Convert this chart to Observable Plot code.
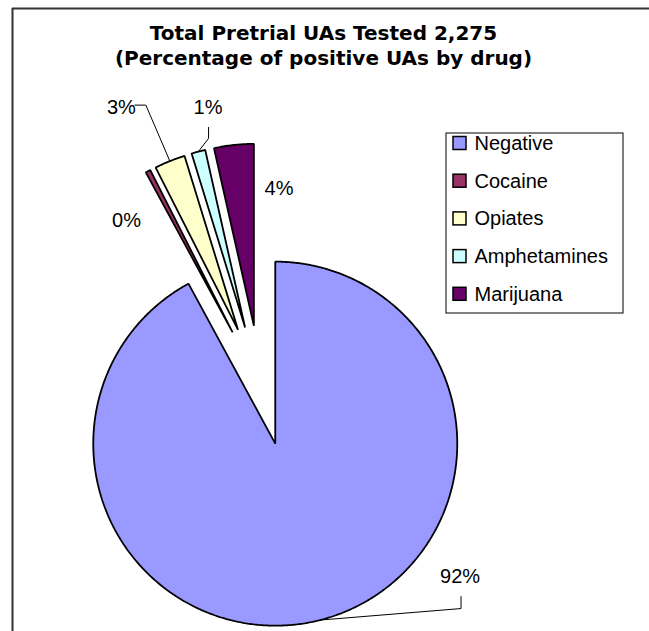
<!DOCTYPE html>
<html><head><meta charset="utf-8">
<script src="https://cdn.jsdelivr.net/npm/d3@7"></script>
<script src="https://cdn.jsdelivr.net/npm/@observablehq/plot@0.6"></script>
<style>html,body{margin:0;padding:0;overflow:hidden;background:#fff}</style>
</head><body><div id="chart"></div>
<script>
// ---- data ----
const categories = ["Negative", "Cocaine", "Opiates", "Amphetamines", "Marijuana"];
const counts = [2095, 10, 62, 28, 80];
const percentLabels = ["92%", "0%", "3%", "1%", "4%"];
const colors = ["#9999FF", "#993366", "#FFFFCC", "#CCFFFF", "#660066"];
const titleLines = ["Total Pretrial UAs Tested 2,275", "(Percentage of positive UAs by drug)"];

// ---- layout ----
const W = 649, H = 631;
const cx = 260, cy = 385, R = 182, explode = 60;
// label offsets (px) from each slice's outer-arc midpoint; baseline position
const labelOffsets = [[140, -37.5], [-21.5, 56], [-48.5, -47], [9.7, -38], [45.2, 50.5]];
// leader line offsets (px) from outer-arc midpoint (null = no leader)
const leaderOffsets = [
  [[0, 0], [141, -11.5], [141, -23.5]],
  null,
  [[0, 0], [-24, -56], [-35, -56]],
  [[0, 0], [10.2, -13.2], [10.2, -24.2]],
  null
];
const legend = {x1: 446, x2: 623, y1: 133, y2: 313, first: 143, step: 37.7, sx: 453, sw: 13, tx: 474};

const rows = categories.map((name, i) => ({name, count: counts[i], label: percentLabels[i]}));
const arcs = d3.pie().sort(null).startAngle(0).endAngle(2 * Math.PI).value(d => d.count)(rows);
const dir = a => [Math.sin(a), -Math.cos(a)];

const slicePts = [], labels = [], leaders = [];
arcs.forEach((a, i) => {
  const name = a.data.name;
  const mid = (a.startAngle + a.endAngle) / 2;
  const [ux, uy] = dir(mid);
  const ax = cx + explode * ux, ay = cy + explode * uy;
  slicePts.push({name, x: ax, y: ay});
  const n = Math.max(2, Math.ceil((a.endAngle - a.startAngle) / (Math.PI / 360)));
  for (let k = 0; k <= n; k++) {
    const t = a.startAngle + (a.endAngle - a.startAngle) * k / n;
    const [px, py] = dir(t);
    slicePts.push({name, x: ax + R * px, y: ay + R * py});
  }
  const mx = ax + R * ux, my = ay + R * uy;
  labels.push({name, label: a.data.label, x: mx + labelOffsets[i][0], y: my + labelOffsets[i][1]});
  if (leaderOffsets[i]) leaderOffsets[i].forEach(([dx, dy]) => leaders.push({name, x: mx + dx, y: my + dy}));
});

const legendRows = categories.map((name, i) => {
  const yc = legend.first + i * legend.step;
  return {name, yc, x1: legend.sx, x2: legend.sx + legend.sw, y1: yc - legend.sw / 2, y2: yc + legend.sw / 2, tx: legend.tx};
});

const font = "Liberation Sans, Arial, sans-serif";
const chart = Plot.plot({
  width: W, height: H, margin: 0,
  x: {type: "linear", domain: [0, W], range: [0, W], axis: null},
  y: {type: "linear", domain: [0, H], range: [0, H], axis: null},
  color: {domain: categories, range: colors},
  marks: [
    Plot.ruleX([{x: 12, y1: 8, y2: H}], {x: "x", y1: "y1", y2: "y2", stroke: "#333", strokeWidth: 2}),
    Plot.ruleY([{y: 8, x1: 12, x2: W}], {y: "y", x1: "x1", x2: "x2", stroke: "#333", strokeWidth: 2}),
    Plot.line(slicePts, {x: "x", y: "y", z: "name", fill: "name", stroke: "#000", strokeWidth: 1.8, curve: "linear-closed", strokeLinejoin: "miter"}),
    Plot.line(leaders, {x: "x", y: "y", z: "name", stroke: "#000", strokeWidth: 1}),
    Plot.text(labels, {x: "x", y: "y", text: "label", fontSize: 20, fontFamily: font, lineAnchor: "bottom", textAnchor: "middle", fill: "#000"}),
    Plot.text(titleLines, {x: () => 323, y: (d, i) => 39 + i * 25, text: d => d, fontSize: 20, fontWeight: "bold", fontFamily: "DejaVu Sans, sans-serif", lineAnchor: "bottom", textAnchor: "middle", fill: "#000"}),
    Plot.rect([legend], {x1: "x1", x2: "x2", y1: "y1", y2: "y2", fill: "#fff", stroke: "#000", strokeWidth: 1}),
    Plot.rect(legendRows, {x1: "x1", x2: "x2", y1: "y1", y2: "y2", fill: "name", stroke: "#000", strokeWidth: 1.5}),
    Plot.text(legendRows, {x: "tx", y: "yc", text: "name", fontSize: 20, fontFamily: font, textAnchor: "start", lineAnchor: "middle", fill: "#000"})
  ]
});
document.getElementById("chart").appendChild(chart);
</script>
</body></html>
